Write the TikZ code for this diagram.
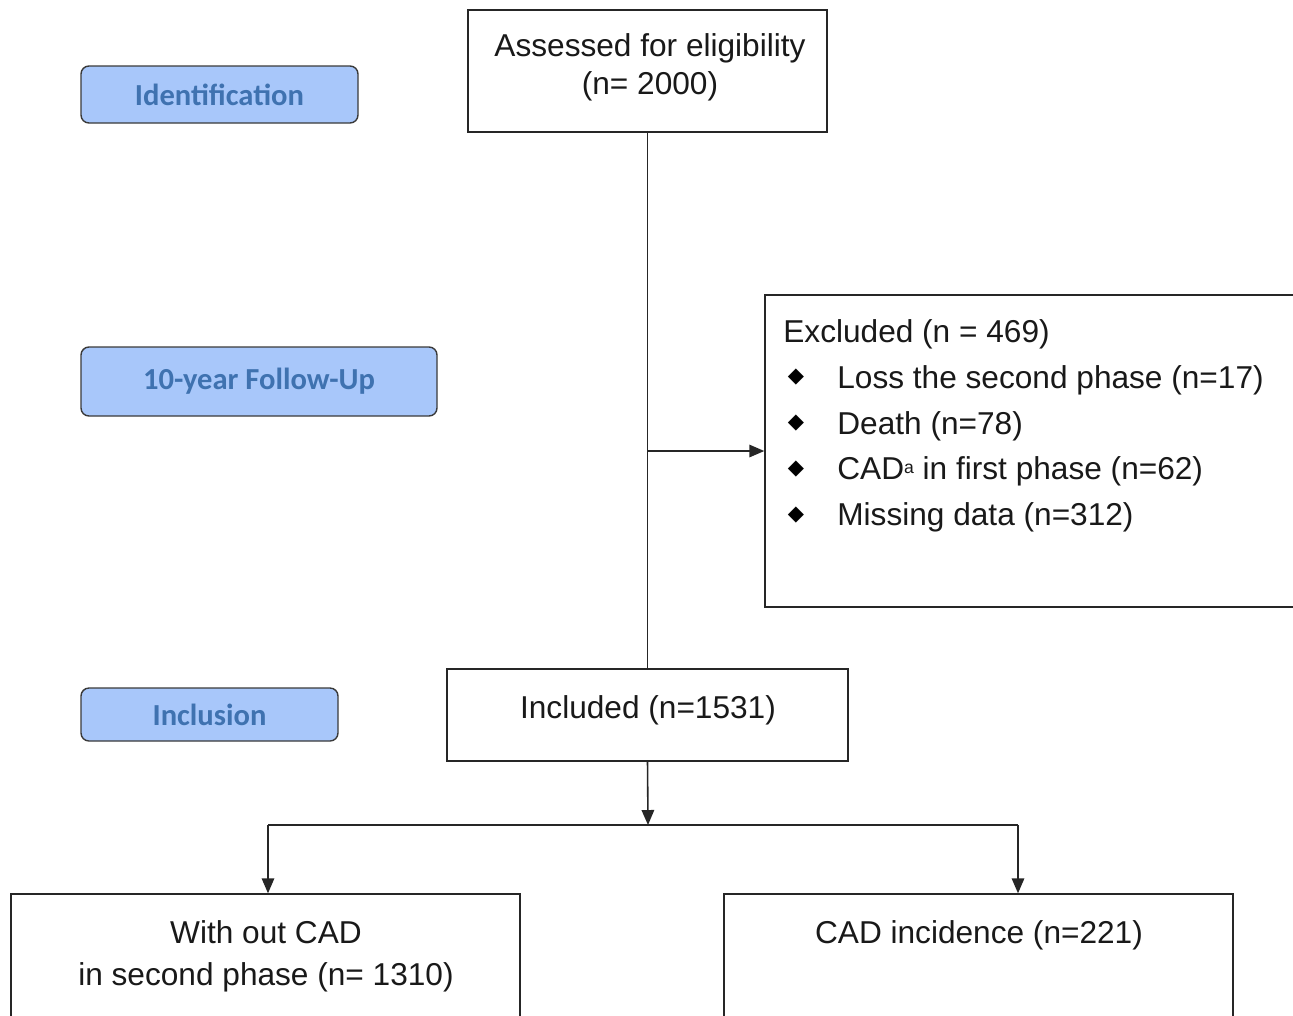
\documentclass[tikz,border=0pt]{standalone}
\usepackage{fontspec}
\setmainfont{Liberation Sans}
\newfontfamily\carl{Carlito}
\newfontfamily\dv{DejaVu Sans}
\usetikzlibrary{arrows.meta}
\definecolor{lblfill}{HTML}{A8C7FA}
\definecolor{lbltext}{HTML}{3F72B0}
\definecolor{lbldraw}{HTML}{3A3A3A}
\begin{document}
\begin{tikzpicture}[x=0.02cm,y=-0.02cm,
  box/.style={draw=black!85,line width=0.8pt,fill=white,inner sep=0pt,rectangle},
  lbl/.style={draw=lbldraw,line width=0.8pt,fill=lblfill,rounded corners=0.16cm,inner sep=0pt,
     text=lbltext,font=\carl\bfseries\fontsize{17.4}{20}\selectfont},
  txt/.style={inner sep=0pt,align=center,text=black!90,font=\fontsize{18}{20.4}\selectfont},
  ltxt/.style={inner sep=0pt,anchor=west,text=black!90,font=\fontsize{18}{20.4}\selectfont},
  bul/.style={inner sep=0pt,text=black,font=\dv\fontsize{12}{14}\selectfont},
  ln/.style={draw=black!85,line width=0.9pt},
  arr/.style={ln,-{Triangle[length=0.3cm,width=0.25cm]}}]
\useasboundingbox (0,0) rectangle (1293,1015);

% stage labels
\node[lbl,minimum width=277*0.02cm,minimum height=57*0.02cm] (ident) at (219.5,94.5) {Identification};
\node[lbl,minimum width=356*0.02cm,minimum height=69*0.02cm] (follow) at (259,381.5) {10-year Follow-Up};
\node[lbl,minimum width=257*0.02cm,minimum height=53*0.02cm] (inclbl) at (209.5,714.5) {Inclusion};

% boxes
\node[box,minimum width=359*0.02cm,minimum height=122*0.02cm] (assess) at (647.5,71) {};
\node[txt] (assesst) at (650,67.5) {Assessed for eligibility\\[1pt](n= 2000)};

\node[box,minimum width=540*0.02cm,minimum height=312*0.02cm] (excl) at (1035,451) {};
\node[ltxt] (e0) at (783,334) {Excluded (n = 469)};
\node[bul] (b1) at (796,377) {◆};
\node[ltxt] (e1) at (837,380) {Loss the second phase (n=17)};
\node[bul] (b2) at (796,423) {◆};
\node[ltxt] (e2) at (837,426) {Death (n=78)};
\node[bul] (b3) at (796,469) {◆};
\node[ltxt] (e3) at (837,471) {CAD\raisebox{3.5pt}{\fontsize{10}{12}\selectfont a} in first phase (n=62)};
\node[bul] (b4) at (796,515) {◆};
\node[ltxt] (e4) at (837,517) {Missing data (n=312)};

\node[box,minimum width=401*0.02cm,minimum height=92*0.02cm] (incl) at (647.5,715) {};
\node[txt] (inclt) at (648,710) {Included (n=1531)};

\node[box,minimum width=509*0.02cm,minimum height=150*0.02cm] (left) at (265.5,969) {};
\node[txt] (leftt) at (266,956.5) {With out CAD\\[3.5pt]in second phase (n= 1310)};

\node[box,minimum width=509*0.02cm,minimum height=150*0.02cm] (right) at (978.5,969) {};
\node[txt] (rightt) at (979,935) {CAD incidence (n=221)};

% connectors
\draw[ln] (assess.south) -- (incl.north);
\coordinate (br) at (assess.south |- excl.west);
\draw[arr] (br) -- (excl.west);
\coordinate (split) at (648,825);
\draw[arr] (incl.south) -- (split);
\coordinate (hl) at (268,825);
\coordinate (hr) at (1018,825);
\draw[ln] (hl) -- (hr);
\draw[arr] (hl) -- (left.north -| hl);
\draw[arr] (hr) -- (right.north -| hr);
\end{tikzpicture}
\end{document}
